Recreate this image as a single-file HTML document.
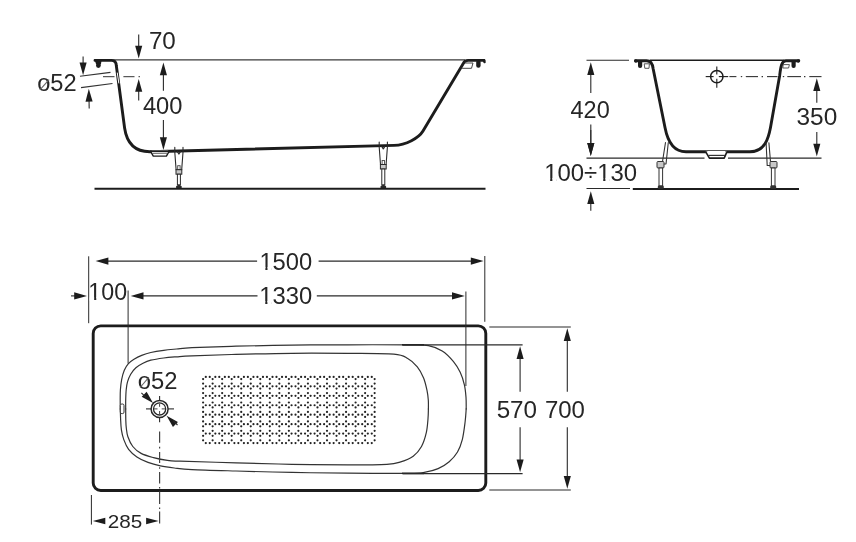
<!DOCTYPE html>
<html><head><meta charset="utf-8"><style>
html,body{margin:0;padding:0;background:#fff;}
svg{display:block;will-change:transform;}
text{font-family:"Liberation Sans",sans-serif;}
</style></head><body>
<svg width="856" height="542" viewBox="0 0 856 542">
<line x1="108.00" y1="59.80" x2="465.00" y2="59.80" stroke="#3a3a3a" stroke-width="1.3" />
<path d="M95,60.4 L111.5,60.4 Q116,60.4 116.3,65.5 L124.6,128 C126.8,143 134,151.8 150,151.7 L394,145.4 C406,145.1 418.9,137.9 423,131 L463,64 Q464.5,60.4 468,60.4 L484,60.4" stroke="#1c1c1c" stroke-width="2.9" fill="none" stroke-linejoin="round" stroke-linecap="round" />
<polygon points="94.3,59 101.8,59 100.9,64.5 96.2,64.5" fill="#1c1c1c"/>
<circle cx="98.4" cy="65.5" r="2.4" fill="#1c1c1c"/>
<rect x="476.2" y="60" width="4.4" height="7.8" rx="2.1" fill="#1c1c1c"/>
<path d="M484,60.4 L484.5,62" stroke="#1c1c1c" stroke-width="2.5" fill="none" stroke-linejoin="round" stroke-linecap="round" />
<path d="M465.5,63 L473,63 L471.5,68.3 L462.5,68.3" stroke="#444" stroke-width="1.0" fill="none" stroke-linejoin="round" stroke-linecap="round" />
<path d="M117.3,73 L118.8,83" stroke="#fff" stroke-width="1.0" fill="none" stroke-linejoin="round" stroke-linecap="round" />
<path d="M150.6,151.3 L153.3,156.1 L166.4,156.1 L169.1,151.3 Z" fill="#fff" stroke="#1c1c1c" stroke-width="1.4" stroke-linejoin="round"/>
<line x1="151.50" y1="150.60" x2="168.30" y2="150.40" stroke="#555" stroke-width="1.0" />
<line x1="152.30" y1="153.30" x2="167.50" y2="153.20" stroke="#555" stroke-width="1.0" />
<path d="M174.8,147.2 L174.8,152.2 L176.10000000000002,169.7 L181.7,169.7 L183.0,152.2 L183.0,147.2" stroke="#2a2a2a" stroke-width="1.1" fill="none" stroke-linejoin="round" stroke-linecap="round" />
<path d="M177.4,151.7 L178.9,154.0 L180.4,151.7" stroke="#2a2a2a" stroke-width="1.3" fill="none" stroke-linejoin="round" stroke-linecap="round" />
<rect x="177.70000000000002" y="165.7" width="2.3999999999999995" height="4" fill="none" stroke="#444" stroke-width="0.9"/>
<rect x="176.0" y="169.7" width="5.799999999999999" height="4.5" fill="#c8c8c8" stroke="#2a2a2a" stroke-width="1"/>
<rect x="177.4" y="174.2" width="2.999999999999999" height="10.600000000000023" fill="#fff" stroke="#2a2a2a" stroke-width="1"/>
<path d="M176.10000000000002,188.8 L176.10000000000002,186.3 Q178.9,183.3 181.7,186.3 L181.7,188.8 Z" fill="#2a2a2a"/>
<path d="M379.2,142 L379.2,147 L380.5,164.5 L386.09999999999997,164.5 L387.4,147 L387.4,142" stroke="#2a2a2a" stroke-width="1.1" fill="none" stroke-linejoin="round" stroke-linecap="round" />
<path d="M381.8,146.5 L383.3,148.8 L384.79999999999995,146.5" stroke="#2a2a2a" stroke-width="1.3" fill="none" stroke-linejoin="round" stroke-linecap="round" />
<rect x="382.09999999999997" y="160.5" width="2.3999999999999995" height="4" fill="none" stroke="#444" stroke-width="0.9"/>
<rect x="380.4" y="164.5" width="5.799999999999999" height="4.5" fill="#c8c8c8" stroke="#2a2a2a" stroke-width="1"/>
<rect x="381.8" y="169" width="2.999999999999999" height="15.800000000000011" fill="#fff" stroke="#2a2a2a" stroke-width="1"/>
<path d="M380.5,188.8 L380.5,186.3 Q383.3,183.3 386.09999999999997,186.3 L386.09999999999997,188.8 Z" fill="#2a2a2a"/>
<line x1="94.50" y1="188.80" x2="485.50" y2="188.80" stroke="#1c1c1c" stroke-width="2.1" />
<line x1="103.00" y1="76.70" x2="114.50" y2="76.70" stroke="#333" stroke-width="1.0" />
<line x1="123.40" y1="76.70" x2="134.50" y2="76.70" stroke="#333" stroke-width="1.0" />
<line x1="138.50" y1="76.70" x2="140.00" y2="76.70" stroke="#333" stroke-width="1.0" />
<line x1="80.00" y1="76.30" x2="110.50" y2="72.40" stroke="#333" stroke-width="1.1" />
<line x1="81.00" y1="87.60" x2="112.50" y2="83.50" stroke="#333" stroke-width="1.1" />
<line x1="83.10" y1="56.40" x2="83.10" y2="64.40" stroke="#2a2a2a" stroke-width="1.1" />
<polygon points="83.10,75.20 79.55,62.40 86.65,62.40" fill="#1c1c1c"/>
<line x1="89.20" y1="108.40" x2="89.02" y2="99.60" stroke="#2a2a2a" stroke-width="1.1" />
<polygon points="88.80,88.80 92.61,101.52 85.51,101.67" fill="#1c1c1c"/>
<line x1="138.70" y1="34.60" x2="138.70" y2="47.80" stroke="#2a2a2a" stroke-width="1.1" />
<polygon points="138.70,58.60 135.15,45.80 142.25,45.80" fill="#1c1c1c"/>
<line x1="138.70" y1="100.50" x2="138.70" y2="89.80" stroke="#2a2a2a" stroke-width="1.1" />
<polygon points="138.70,79.00 142.25,91.80 135.15,91.80" fill="#1c1c1c"/>
<line x1="163.40" y1="90.70" x2="163.40" y2="73.30" stroke="#2a2a2a" stroke-width="1.1" />
<polygon points="163.40,62.50 166.95,75.30 159.85,75.30" fill="#1c1c1c"/>
<line x1="163.40" y1="120.10" x2="163.40" y2="139.20" stroke="#2a2a2a" stroke-width="1.1" />
<polygon points="163.40,150.00 159.85,137.20 166.95,137.20" fill="#1c1c1c"/>
<text transform="translate(148.89,49.16) scale(1.0295,1)" font-size="23.52" fill="#262626">70</text>
<text transform="translate(37.15,91.07) scale(1.0186,1)" font-size="23.24" fill="#262626">o52</text>
<line x1="39.90" y1="89.80" x2="49.10" y2="79.70" stroke="#666" stroke-width="1.1" />
<text transform="translate(142.93,113.96) scale(1.0027,1)" font-size="23.66" fill="#262626">400</text>
<line x1="586.50" y1="60.20" x2="629.00" y2="60.20" stroke="#2a2a2a" stroke-width="1.1" />
<line x1="650.00" y1="60.30" x2="784.00" y2="60.30" stroke="#1c1c1c" stroke-width="1.5" />
<path d="M635.5,60.8 L646.5,60.8 C650.5,60.8 652.6,63.5 653.2,69 L665,127.5 C667,138 672,151.8 686,151.8 L706,151.8 M726.5,151.8 L750,151.8 C765,151.8 768.5,138 770.5,127.5 L779.6,76 C780.6,68 781.3,60.8 786,60.8 L798.8,60.8" stroke="#1c1c1c" stroke-width="2.9" fill="none" stroke-linejoin="round" stroke-linecap="round" />
<path d="M705.6,151.6 L709.4,158.1 L724.2,158.1 L727,151.6" fill="#fff" stroke="#1c1c1c" stroke-width="1.6" stroke-linejoin="round"/>
<line x1="706.50" y1="150.50" x2="726.20" y2="150.50" stroke="#555" stroke-width="1.0" />
<line x1="708.50" y1="155.40" x2="725.00" y2="155.40" stroke="#333" stroke-width="1.2" />
<rect x="638" y="60" width="4.2" height="8" rx="2" fill="#1c1c1c"/>
<rect x="791.5" y="60" width="4.2" height="8" rx="2" fill="#1c1c1c"/>
<circle cx="798.3" cy="61" r="1.7" fill="#1c1c1c"/>
<circle cx="635.8" cy="61" r="1.7" fill="#1c1c1c"/>
<path d="M644.6,63.8 L649.4,63.8 L649,68.3 L645.2,68.3 Z" stroke="#444" stroke-width="0.9" fill="none" stroke-linejoin="round" stroke-linecap="round" />
<path d="M783.6,64.6 L789.4,64.6 L788.6,68 L783.2,68 Z" stroke="#444" stroke-width="0.9" fill="none" stroke-linejoin="round" stroke-linecap="round" />
<circle cx="716.8" cy="76.6" r="6.2" fill="none" stroke="#1c1c1c" stroke-width="1.5"/>
<line x1="705.70" y1="76.60" x2="713.60" y2="76.60" stroke="#1c1c1c" stroke-width="1.1" />
<line x1="718.80" y1="76.60" x2="728.20" y2="76.60" stroke="#1c1c1c" stroke-width="1.1" />
<line x1="716.80" y1="66.50" x2="716.80" y2="74.40" stroke="#1c1c1c" stroke-width="1.1" />
<line x1="716.80" y1="78.80" x2="716.80" y2="87.70" stroke="#1c1c1c" stroke-width="1.1" />
<line x1="729.40" y1="76.60" x2="736.40" y2="76.60" stroke="#333" stroke-width="1.1" />
<line x1="740.80" y1="76.60" x2="742.20" y2="76.60" stroke="#333" stroke-width="1.1" />
<line x1="745.80" y1="76.60" x2="758.00" y2="76.60" stroke="#333" stroke-width="1.1" />
<line x1="761.60" y1="76.60" x2="763.00" y2="76.60" stroke="#333" stroke-width="1.1" />
<line x1="767.00" y1="76.60" x2="777.50" y2="76.60" stroke="#333" stroke-width="1.1" />
<line x1="782.80" y1="76.60" x2="784.20" y2="76.60" stroke="#333" stroke-width="1.1" />
<line x1="787.30" y1="76.60" x2="801.00" y2="76.60" stroke="#333" stroke-width="1.1" />
<line x1="804.00" y1="76.60" x2="805.40" y2="76.60" stroke="#333" stroke-width="1.1" />
<line x1="809.30" y1="76.60" x2="821.50" y2="76.60" stroke="#333" stroke-width="1.1" />
<line x1="586.50" y1="158.10" x2="704.50" y2="158.10" stroke="#2a2a2a" stroke-width="1.1" />
<line x1="728.00" y1="158.10" x2="821.50" y2="158.10" stroke="#2a2a2a" stroke-width="1.1" />
<line x1="586.50" y1="188.50" x2="630.00" y2="188.50" stroke="#2a2a2a" stroke-width="1.1" />
<line x1="632.80" y1="189.00" x2="799.00" y2="189.00" stroke="#1c1c1c" stroke-width="2.1" />
<line x1="590.80" y1="93.00" x2="590.80" y2="73.10" stroke="#2a2a2a" stroke-width="1.1" />
<polygon points="590.80,62.30 594.35,75.10 587.25,75.10" fill="#1c1c1c"/>
<line x1="590.80" y1="124.40" x2="590.80" y2="145.10" stroke="#2a2a2a" stroke-width="1.1" />
<polygon points="590.80,155.90 587.25,143.10 594.35,143.10" fill="#1c1c1c"/>
<line x1="590.80" y1="130.00" x2="590.80" y2="145.10" stroke="#2a2a2a" stroke-width="1.1" />
<polygon points="590.80,155.90 587.25,143.10 594.35,143.10" fill="#1c1c1c"/>
<line x1="590.80" y1="210.80" x2="590.80" y2="202.00" stroke="#2a2a2a" stroke-width="1.1" />
<polygon points="590.80,191.20 594.35,204.00 587.25,204.00" fill="#1c1c1c"/>
<line x1="816.80" y1="102.80" x2="816.80" y2="89.10" stroke="#2a2a2a" stroke-width="1.1" />
<polygon points="816.80,78.30 820.35,91.10 813.25,91.10" fill="#1c1c1c"/>
<line x1="816.80" y1="132.10" x2="816.80" y2="145.70" stroke="#2a2a2a" stroke-width="1.1" />
<polygon points="816.80,156.50 813.25,143.70 820.35,143.70" fill="#1c1c1c"/>
<path d="M665.5,142.5 L662.5,161.5 M668.3,142.5 L666,164 L664.3,164" stroke="#333" stroke-width="1.1" fill="none" stroke-linejoin="round" stroke-linecap="round" />
<rect x="657" y="161.5" width="7" height="6.5" rx="1" fill="#c8c8c8" stroke="#333" stroke-width="1"/>
<rect x="659" y="168" width="3.6" height="18" fill="#fff" stroke="#333" stroke-width="1"/>
<rect x="657.8" y="185.5" width="6" height="3.2" rx="1.2" fill="#333"/>
<path d="M768.9,142.8 L770.5,161.6 M766.1,142.8 L767.2,165.5 L770.3,165.5" stroke="#333" stroke-width="1.1" fill="none" stroke-linejoin="round" stroke-linecap="round" />
<rect x="770" y="161.5" width="7" height="6.5" rx="1" fill="#c8c8c8" stroke="#333" stroke-width="1"/>
<rect x="771.4" y="168" width="3.6" height="18" fill="#fff" stroke="#333" stroke-width="1"/>
<rect x="770.2" y="185.5" width="6" height="3.2" rx="1.2" fill="#333"/>
<text transform="translate(570.53,117.57) scale(1.0103,1)" font-size="23.24" fill="#262626">420</text>
<text transform="translate(796.52,125.46) scale(1.0313,1)" font-size="23.66" fill="#262626">350</text>
<text transform="translate(544.19,181.17) scale(1.0233,1)" font-size="23.38" fill="#262626">100÷130</text>
<g transform="translate(544.19,181.17) scale(1.0233,1)" fill="#fff"><rect x="1.40" y="-3.04" width="4.44" height="3.74"/><rect x="7.98" y="-3.04" width="4.21" height="3.74"/><rect x="53.24" y="-3.04" width="4.44" height="3.74"/><rect x="59.83" y="-3.04" width="4.21" height="3.74"/></g>
<rect x="93.2" y="325.9" width="392.6" height="164.6" rx="7.5" fill="none" stroke="#1c1c1c" stroke-width="2.9"/>
<line x1="88.70" y1="256.30" x2="88.70" y2="323.20" stroke="#2a2a2a" stroke-width="1.0" />
<line x1="484.80" y1="256.00" x2="484.80" y2="321.80" stroke="#2a2a2a" stroke-width="1.0" />
<line x1="128.10" y1="290.50" x2="128.10" y2="363.50" stroke="#2a2a2a" stroke-width="1.0" />
<line x1="465.90" y1="291.50" x2="465.90" y2="386.00" stroke="#2a2a2a" stroke-width="1.0" />
<line x1="257.10" y1="261.10" x2="106.40" y2="261.10" stroke="#2a2a2a" stroke-width="1.1" />
<polygon points="95.60,261.10 108.40,257.55 108.40,264.65" fill="#1c1c1c"/>
<line x1="318.60" y1="261.10" x2="472.80" y2="261.10" stroke="#2a2a2a" stroke-width="1.1" />
<polygon points="483.60,261.10 470.80,264.65 470.80,257.55" fill="#1c1c1c"/>
<line x1="257.50" y1="295.90" x2="141.50" y2="295.90" stroke="#2a2a2a" stroke-width="1.1" />
<polygon points="130.70,295.90 143.50,292.35 143.50,299.45" fill="#1c1c1c"/>
<line x1="316.80" y1="295.90" x2="454.00" y2="295.90" stroke="#2a2a2a" stroke-width="1.1" />
<polygon points="464.80,295.90 452.00,299.45 452.00,292.35" fill="#1c1c1c"/>
<line x1="71.00" y1="295.90" x2="76.20" y2="295.90" stroke="#2a2a2a" stroke-width="1.1" />
<polygon points="87.00,295.90 74.20,299.45 74.20,292.35" fill="#1c1c1c"/>
<text transform="translate(259.40,270.07) scale(1.0225,1)" font-size="23.24" fill="#262626">1500</text>
<g transform="translate(259.40,270.07) scale(1.0225,1)" fill="#fff"><rect x="1.39" y="-3.02" width="4.42" height="3.72"/><rect x="7.94" y="-3.02" width="4.18" height="3.72"/></g>
<text transform="translate(259.30,304.06) scale(1.0062,1)" font-size="23.66" fill="#262626">1330</text>
<g transform="translate(259.30,304.06) scale(1.0062,1)" fill="#fff"><rect x="1.42" y="-3.08" width="4.50" height="3.79"/><rect x="8.08" y="-3.08" width="4.26" height="3.79"/></g>
<text transform="translate(88.34,300.37) scale(1.0055,1)" font-size="23.10" fill="#262626">100</text>
<g transform="translate(88.34,300.37) scale(1.0055,1)" fill="#fff"><rect x="1.39" y="-3.00" width="4.39" height="3.70"/><rect x="7.89" y="-3.00" width="4.16" height="3.70"/></g>
<path d="M466.20,408.90 C466.17,406.95 466.30,401.22 466.00,397.20 C465.70,393.18 465.37,388.95 464.40,384.80 C463.43,380.65 462.05,376.22 460.20,372.30 C458.35,368.38 456.30,364.87 453.30,361.30 C450.30,357.73 446.35,353.52 442.20,350.90 C438.05,348.28 433.77,346.62 428.40,345.60 C423.03,344.58 423.40,344.93 410.00,344.80 C396.60,344.67 367.67,344.75 348.00,344.80 C328.33,344.85 310.67,344.87 292.00,345.10 C273.33,345.33 252.67,345.77 236.00,346.20 C219.33,346.63 201.90,347.23 192.00,347.70 C182.10,348.17 181.32,348.57 176.60,349.00 C171.88,349.43 168.00,349.72 163.70,350.30 C159.40,350.88 154.47,351.65 150.80,352.50 C147.13,353.35 144.50,354.27 141.70,355.40 C138.90,356.53 136.25,357.90 134.00,359.30 C131.75,360.70 129.82,361.97 128.20,363.80 C126.58,365.63 125.38,367.70 124.30,370.30 C123.22,372.90 122.35,376.17 121.70,379.40 C121.05,382.63 120.65,386.27 120.40,389.70 C120.15,393.13 120.22,396.80 120.20,400.00 C120.18,403.20 120.28,407.42 120.30,408.90" stroke="#333" stroke-width="1.2" fill="none" stroke-linejoin="round" stroke-linecap="round" />
<path d="M120.30,408.90 C120.35,410.55 120.42,415.30 120.60,418.80 C120.78,422.30 120.87,426.43 121.40,429.90 C121.93,433.37 122.60,436.37 123.80,439.60 C125.00,442.83 126.42,446.42 128.60,449.30 C130.78,452.18 133.67,454.72 136.90,456.90 C140.13,459.08 144.08,460.90 148.00,462.40 C151.92,463.90 156.02,464.97 160.40,465.90 C164.78,466.83 169.03,467.38 174.30,468.00 C179.57,468.62 181.72,469.10 192.00,469.60 C202.28,470.10 219.33,470.53 236.00,471.00 C252.67,471.47 273.33,472.03 292.00,472.40 C310.67,472.77 328.33,473.03 348.00,473.20 C367.67,473.37 397.28,473.53 410.00,473.40 C422.72,473.27 419.62,473.20 424.30,472.40 C428.98,471.60 433.95,470.38 438.10,468.60 C442.25,466.82 445.97,464.47 449.20,461.70 C452.43,458.93 455.32,455.68 457.50,452.00 C459.68,448.32 461.03,444.60 462.30,439.60 C463.57,434.60 464.45,427.12 465.10,422.00 C465.75,416.88 466.02,411.08 466.20,408.90" stroke="#333" stroke-width="1.2" fill="none" stroke-linejoin="round" stroke-linecap="round" />
<path d="M428.40,408.90 C428.38,407.42 428.53,403.10 428.30,400.00 C428.07,396.90 427.78,393.98 427.00,390.30 C426.22,386.62 425.22,381.82 423.60,377.90 C421.98,373.98 419.95,370.03 417.30,366.80 C414.65,363.57 411.62,360.60 407.70,358.50 C403.78,356.40 403.75,355.05 393.80,354.20 C383.85,353.35 364.97,353.55 348.00,353.40 C331.03,353.25 310.67,353.13 292.00,353.30 C273.33,353.47 252.67,353.98 236.00,354.40 C219.33,354.82 201.90,355.40 192.00,355.80 C182.10,356.20 181.32,356.43 176.60,356.80 C171.88,357.17 168.00,357.43 163.70,358.00 C159.40,358.57 154.25,359.33 150.80,360.20 C147.35,361.07 145.48,361.95 143.00,363.20 C140.52,364.45 137.95,365.87 135.90,367.70 C133.85,369.53 132.10,371.83 130.70,374.20 C129.30,376.57 128.25,379.32 127.50,381.90 C126.75,384.48 126.50,386.68 126.20,389.70 C125.90,392.72 125.78,396.80 125.70,400.00 C125.62,403.20 125.70,407.42 125.70,408.90" stroke="#333" stroke-width="1.2" fill="none" stroke-linejoin="round" stroke-linecap="round" />
<path d="M125.70,408.90 C125.72,410.75 125.70,416.82 125.80,420.00 C125.90,423.18 125.95,425.20 126.30,428.00 C126.65,430.80 126.82,433.72 127.90,436.80 C128.98,439.88 130.60,443.73 132.80,446.50 C135.00,449.27 137.65,451.55 141.10,453.40 C144.55,455.25 149.12,456.43 153.50,457.60 C157.88,458.77 162.98,459.80 167.40,460.40 C171.82,461.00 168.57,460.80 180.00,461.20 C191.43,461.60 217.33,462.28 236.00,462.80 C254.67,463.32 273.33,463.97 292.00,464.30 C310.67,464.63 332.18,464.80 348.00,464.80 C363.82,464.80 378.12,464.78 386.90,464.30 C395.68,463.82 396.32,463.25 400.70,461.90 C405.08,460.55 409.73,458.77 413.20,456.20 C416.67,453.63 419.32,450.42 421.50,446.50 C423.68,442.58 425.22,437.32 426.30,432.70 C427.38,428.08 427.65,422.77 428.00,418.80 C428.35,414.83 428.33,410.55 428.40,408.90" stroke="#333" stroke-width="1.2" fill="none" stroke-linejoin="round" stroke-linecap="round" />
<line x1="402.00" y1="344.80" x2="424.00" y2="344.80" stroke="#222" stroke-width="1.6" />
<line x1="402.00" y1="473.40" x2="424.00" y2="473.40" stroke="#222" stroke-width="1.6" />
<rect x="120.3" y="404" width="3.7" height="9.6" rx="1.5" fill="#fff" stroke="#333" stroke-width="1"/>
<line x1="403.00" y1="344.80" x2="522.60" y2="344.80" stroke="#2a2a2a" stroke-width="1.2" />
<line x1="403.00" y1="473.60" x2="522.60" y2="473.60" stroke="#2a2a2a" stroke-width="1.2" />
<line x1="489.30" y1="327.00" x2="570.80" y2="327.00" stroke="#2a2a2a" stroke-width="1.2" />
<line x1="489.30" y1="490.00" x2="570.80" y2="490.00" stroke="#2a2a2a" stroke-width="1.2" />
<line x1="520.10" y1="391.70" x2="520.10" y2="357.10" stroke="#2a2a2a" stroke-width="1.1" />
<polygon points="520.10,346.30 523.65,359.10 516.55,359.10" fill="#1c1c1c"/>
<line x1="520.10" y1="427.30" x2="520.10" y2="461.40" stroke="#2a2a2a" stroke-width="1.1" />
<polygon points="520.10,472.20 516.55,459.40 523.65,459.40" fill="#1c1c1c"/>
<line x1="567.30" y1="391.70" x2="567.30" y2="339.00" stroke="#2a2a2a" stroke-width="1.1" />
<polygon points="567.30,328.20 570.85,341.00 563.75,341.00" fill="#1c1c1c"/>
<line x1="567.30" y1="427.30" x2="567.30" y2="478.00" stroke="#2a2a2a" stroke-width="1.1" />
<polygon points="567.30,488.80 563.75,476.00 570.85,476.00" fill="#1c1c1c"/>
<text transform="translate(496.63,418.17) scale(1.0357,1)" font-size="23.38" fill="#262626">570</text>
<text transform="translate(544.90,418.17) scale(1.0260,1)" font-size="23.38" fill="#262626">700</text>
<circle cx="159.6" cy="408.9" r="8.5" fill="none" stroke="#262626" stroke-width="1.5"/>
<circle cx="159.6" cy="408.9" r="6.1" fill="none" stroke="#262626" stroke-width="1.3"/>
<line x1="146.00" y1="408.90" x2="151.00" y2="408.90" stroke="#2a2a2a" stroke-width="1.1" />
<line x1="168.20" y1="408.90" x2="174.00" y2="408.90" stroke="#2a2a2a" stroke-width="1.1" />
<line x1="159.60" y1="396.00" x2="159.60" y2="400.40" stroke="#2a2a2a" stroke-width="1.1" />
<line x1="159.60" y1="417.40" x2="159.60" y2="422.20" stroke="#2a2a2a" stroke-width="1.1" />
<line x1="154.00" y1="408.90" x2="157.50" y2="408.90" stroke="#444" stroke-width="1.0" />
<line x1="161.70" y1="408.90" x2="165.20" y2="408.90" stroke="#444" stroke-width="1.0" />
<line x1="159.60" y1="403.60" x2="159.60" y2="406.80" stroke="#444" stroke-width="1.0" />
<line x1="159.60" y1="411.00" x2="159.60" y2="414.20" stroke="#444" stroke-width="1.0" />
<polygon points="153.00,403.00 141.69,396.64 146.64,391.69" fill="#1c1c1c"/>
<line x1="141.40" y1="392.80" x2="146.00" y2="397.40" stroke="#2a2a2a" stroke-width="1.1" />
<polygon points="166.60,415.70 177.91,422.06 172.96,427.01" fill="#1c1c1c"/>
<line x1="177.50" y1="425.00" x2="173.00" y2="420.50" stroke="#2a2a2a" stroke-width="1.1" />
<text transform="translate(137.75,388.67) scale(1.0240,1)" font-size="23.24" fill="#262626">o52</text>
<line x1="140.10" y1="387.50" x2="148.80" y2="377.40" stroke="#666" stroke-width="1.1" />
<line x1="159.60" y1="431.60" x2="159.60" y2="442.80" stroke="#444" stroke-width="1.2" />
<line x1="159.60" y1="446.80" x2="159.60" y2="448.40" stroke="#444" stroke-width="1.2" />
<line x1="159.60" y1="452.00" x2="159.60" y2="463.00" stroke="#444" stroke-width="1.2" />
<line x1="159.60" y1="467.20" x2="159.60" y2="468.80" stroke="#444" stroke-width="1.2" />
<line x1="159.60" y1="471.90" x2="159.60" y2="483.50" stroke="#444" stroke-width="1.2" />
<line x1="159.60" y1="487.00" x2="159.60" y2="488.60" stroke="#444" stroke-width="1.2" />
<line x1="159.60" y1="491.40" x2="159.60" y2="504.00" stroke="#444" stroke-width="1.2" />
<line x1="159.60" y1="507.50" x2="159.60" y2="509.10" stroke="#444" stroke-width="1.2" />
<line x1="159.60" y1="511.60" x2="159.60" y2="523.50" stroke="#444" stroke-width="1.2" />
<line x1="91.40" y1="495.00" x2="91.40" y2="524.60" stroke="#2a2a2a" stroke-width="1.0" />
<polygon points="92.80,521.00 105.30,517.70 105.30,524.30" fill="#1c1c1c"/>
<polygon points="158.60,521.00 146.10,524.30 146.10,517.70" fill="#1c1c1c"/>
<text transform="translate(107.77,528.21) scale(1.0805,1)" font-size="19.15" fill="#262626">285</text>
<g fill="#222"><circle cx="205.80" cy="376.90" r="1.1"/><circle cx="209.75" cy="376.90" r="1.1"/><circle cx="215.33" cy="376.90" r="1.1"/><circle cx="219.28" cy="376.90" r="1.1"/><circle cx="224.86" cy="376.90" r="1.1"/><circle cx="228.81" cy="376.90" r="1.1"/><circle cx="234.39" cy="376.90" r="1.1"/><circle cx="238.34" cy="376.90" r="1.1"/><circle cx="243.92" cy="376.90" r="1.1"/><circle cx="247.87" cy="376.90" r="1.1"/><circle cx="253.45" cy="376.90" r="1.1"/><circle cx="257.40" cy="376.90" r="1.1"/><circle cx="262.98" cy="376.90" r="1.1"/><circle cx="266.93" cy="376.90" r="1.1"/><circle cx="272.51" cy="376.90" r="1.1"/><circle cx="276.46" cy="376.90" r="1.1"/><circle cx="282.04" cy="376.90" r="1.1"/><circle cx="285.99" cy="376.90" r="1.1"/><circle cx="291.57" cy="376.90" r="1.1"/><circle cx="295.52" cy="376.90" r="1.1"/><circle cx="301.10" cy="376.90" r="1.1"/><circle cx="305.05" cy="376.90" r="1.1"/><circle cx="310.63" cy="376.90" r="1.1"/><circle cx="314.58" cy="376.90" r="1.1"/><circle cx="320.16" cy="376.90" r="1.1"/><circle cx="324.11" cy="376.90" r="1.1"/><circle cx="329.69" cy="376.90" r="1.1"/><circle cx="333.64" cy="376.90" r="1.1"/><circle cx="339.22" cy="376.90" r="1.1"/><circle cx="343.17" cy="376.90" r="1.1"/><circle cx="348.75" cy="376.90" r="1.1"/><circle cx="352.70" cy="376.90" r="1.1"/><circle cx="358.28" cy="376.90" r="1.1"/><circle cx="362.23" cy="376.90" r="1.1"/><circle cx="367.81" cy="376.90" r="1.1"/><circle cx="371.76" cy="376.90" r="1.1"/><circle cx="205.80" cy="386.35" r="1.1"/><circle cx="209.75" cy="386.35" r="1.1"/><circle cx="215.33" cy="386.35" r="1.1"/><circle cx="219.28" cy="386.35" r="1.1"/><circle cx="224.86" cy="386.35" r="1.1"/><circle cx="228.81" cy="386.35" r="1.1"/><circle cx="234.39" cy="386.35" r="1.1"/><circle cx="238.34" cy="386.35" r="1.1"/><circle cx="243.92" cy="386.35" r="1.1"/><circle cx="247.87" cy="386.35" r="1.1"/><circle cx="253.45" cy="386.35" r="1.1"/><circle cx="257.40" cy="386.35" r="1.1"/><circle cx="262.98" cy="386.35" r="1.1"/><circle cx="266.93" cy="386.35" r="1.1"/><circle cx="272.51" cy="386.35" r="1.1"/><circle cx="276.46" cy="386.35" r="1.1"/><circle cx="282.04" cy="386.35" r="1.1"/><circle cx="285.99" cy="386.35" r="1.1"/><circle cx="291.57" cy="386.35" r="1.1"/><circle cx="295.52" cy="386.35" r="1.1"/><circle cx="301.10" cy="386.35" r="1.1"/><circle cx="305.05" cy="386.35" r="1.1"/><circle cx="310.63" cy="386.35" r="1.1"/><circle cx="314.58" cy="386.35" r="1.1"/><circle cx="320.16" cy="386.35" r="1.1"/><circle cx="324.11" cy="386.35" r="1.1"/><circle cx="329.69" cy="386.35" r="1.1"/><circle cx="333.64" cy="386.35" r="1.1"/><circle cx="339.22" cy="386.35" r="1.1"/><circle cx="343.17" cy="386.35" r="1.1"/><circle cx="348.75" cy="386.35" r="1.1"/><circle cx="352.70" cy="386.35" r="1.1"/><circle cx="358.28" cy="386.35" r="1.1"/><circle cx="362.23" cy="386.35" r="1.1"/><circle cx="367.81" cy="386.35" r="1.1"/><circle cx="371.76" cy="386.35" r="1.1"/><circle cx="205.80" cy="395.80" r="1.1"/><circle cx="209.75" cy="395.80" r="1.1"/><circle cx="215.33" cy="395.80" r="1.1"/><circle cx="219.28" cy="395.80" r="1.1"/><circle cx="224.86" cy="395.80" r="1.1"/><circle cx="228.81" cy="395.80" r="1.1"/><circle cx="234.39" cy="395.80" r="1.1"/><circle cx="238.34" cy="395.80" r="1.1"/><circle cx="243.92" cy="395.80" r="1.1"/><circle cx="247.87" cy="395.80" r="1.1"/><circle cx="253.45" cy="395.80" r="1.1"/><circle cx="257.40" cy="395.80" r="1.1"/><circle cx="262.98" cy="395.80" r="1.1"/><circle cx="266.93" cy="395.80" r="1.1"/><circle cx="272.51" cy="395.80" r="1.1"/><circle cx="276.46" cy="395.80" r="1.1"/><circle cx="282.04" cy="395.80" r="1.1"/><circle cx="285.99" cy="395.80" r="1.1"/><circle cx="291.57" cy="395.80" r="1.1"/><circle cx="295.52" cy="395.80" r="1.1"/><circle cx="301.10" cy="395.80" r="1.1"/><circle cx="305.05" cy="395.80" r="1.1"/><circle cx="310.63" cy="395.80" r="1.1"/><circle cx="314.58" cy="395.80" r="1.1"/><circle cx="320.16" cy="395.80" r="1.1"/><circle cx="324.11" cy="395.80" r="1.1"/><circle cx="329.69" cy="395.80" r="1.1"/><circle cx="333.64" cy="395.80" r="1.1"/><circle cx="339.22" cy="395.80" r="1.1"/><circle cx="343.17" cy="395.80" r="1.1"/><circle cx="348.75" cy="395.80" r="1.1"/><circle cx="352.70" cy="395.80" r="1.1"/><circle cx="358.28" cy="395.80" r="1.1"/><circle cx="362.23" cy="395.80" r="1.1"/><circle cx="367.81" cy="395.80" r="1.1"/><circle cx="371.76" cy="395.80" r="1.1"/><circle cx="205.80" cy="405.25" r="1.1"/><circle cx="209.75" cy="405.25" r="1.1"/><circle cx="215.33" cy="405.25" r="1.1"/><circle cx="219.28" cy="405.25" r="1.1"/><circle cx="224.86" cy="405.25" r="1.1"/><circle cx="228.81" cy="405.25" r="1.1"/><circle cx="234.39" cy="405.25" r="1.1"/><circle cx="238.34" cy="405.25" r="1.1"/><circle cx="243.92" cy="405.25" r="1.1"/><circle cx="247.87" cy="405.25" r="1.1"/><circle cx="253.45" cy="405.25" r="1.1"/><circle cx="257.40" cy="405.25" r="1.1"/><circle cx="262.98" cy="405.25" r="1.1"/><circle cx="266.93" cy="405.25" r="1.1"/><circle cx="272.51" cy="405.25" r="1.1"/><circle cx="276.46" cy="405.25" r="1.1"/><circle cx="282.04" cy="405.25" r="1.1"/><circle cx="285.99" cy="405.25" r="1.1"/><circle cx="291.57" cy="405.25" r="1.1"/><circle cx="295.52" cy="405.25" r="1.1"/><circle cx="301.10" cy="405.25" r="1.1"/><circle cx="305.05" cy="405.25" r="1.1"/><circle cx="310.63" cy="405.25" r="1.1"/><circle cx="314.58" cy="405.25" r="1.1"/><circle cx="320.16" cy="405.25" r="1.1"/><circle cx="324.11" cy="405.25" r="1.1"/><circle cx="329.69" cy="405.25" r="1.1"/><circle cx="333.64" cy="405.25" r="1.1"/><circle cx="339.22" cy="405.25" r="1.1"/><circle cx="343.17" cy="405.25" r="1.1"/><circle cx="348.75" cy="405.25" r="1.1"/><circle cx="352.70" cy="405.25" r="1.1"/><circle cx="358.28" cy="405.25" r="1.1"/><circle cx="362.23" cy="405.25" r="1.1"/><circle cx="367.81" cy="405.25" r="1.1"/><circle cx="371.76" cy="405.25" r="1.1"/><circle cx="205.80" cy="414.70" r="1.1"/><circle cx="209.75" cy="414.70" r="1.1"/><circle cx="215.33" cy="414.70" r="1.1"/><circle cx="219.28" cy="414.70" r="1.1"/><circle cx="224.86" cy="414.70" r="1.1"/><circle cx="228.81" cy="414.70" r="1.1"/><circle cx="234.39" cy="414.70" r="1.1"/><circle cx="238.34" cy="414.70" r="1.1"/><circle cx="243.92" cy="414.70" r="1.1"/><circle cx="247.87" cy="414.70" r="1.1"/><circle cx="253.45" cy="414.70" r="1.1"/><circle cx="257.40" cy="414.70" r="1.1"/><circle cx="262.98" cy="414.70" r="1.1"/><circle cx="266.93" cy="414.70" r="1.1"/><circle cx="272.51" cy="414.70" r="1.1"/><circle cx="276.46" cy="414.70" r="1.1"/><circle cx="282.04" cy="414.70" r="1.1"/><circle cx="285.99" cy="414.70" r="1.1"/><circle cx="291.57" cy="414.70" r="1.1"/><circle cx="295.52" cy="414.70" r="1.1"/><circle cx="301.10" cy="414.70" r="1.1"/><circle cx="305.05" cy="414.70" r="1.1"/><circle cx="310.63" cy="414.70" r="1.1"/><circle cx="314.58" cy="414.70" r="1.1"/><circle cx="320.16" cy="414.70" r="1.1"/><circle cx="324.11" cy="414.70" r="1.1"/><circle cx="329.69" cy="414.70" r="1.1"/><circle cx="333.64" cy="414.70" r="1.1"/><circle cx="339.22" cy="414.70" r="1.1"/><circle cx="343.17" cy="414.70" r="1.1"/><circle cx="348.75" cy="414.70" r="1.1"/><circle cx="352.70" cy="414.70" r="1.1"/><circle cx="358.28" cy="414.70" r="1.1"/><circle cx="362.23" cy="414.70" r="1.1"/><circle cx="367.81" cy="414.70" r="1.1"/><circle cx="371.76" cy="414.70" r="1.1"/><circle cx="205.80" cy="424.15" r="1.1"/><circle cx="209.75" cy="424.15" r="1.1"/><circle cx="215.33" cy="424.15" r="1.1"/><circle cx="219.28" cy="424.15" r="1.1"/><circle cx="224.86" cy="424.15" r="1.1"/><circle cx="228.81" cy="424.15" r="1.1"/><circle cx="234.39" cy="424.15" r="1.1"/><circle cx="238.34" cy="424.15" r="1.1"/><circle cx="243.92" cy="424.15" r="1.1"/><circle cx="247.87" cy="424.15" r="1.1"/><circle cx="253.45" cy="424.15" r="1.1"/><circle cx="257.40" cy="424.15" r="1.1"/><circle cx="262.98" cy="424.15" r="1.1"/><circle cx="266.93" cy="424.15" r="1.1"/><circle cx="272.51" cy="424.15" r="1.1"/><circle cx="276.46" cy="424.15" r="1.1"/><circle cx="282.04" cy="424.15" r="1.1"/><circle cx="285.99" cy="424.15" r="1.1"/><circle cx="291.57" cy="424.15" r="1.1"/><circle cx="295.52" cy="424.15" r="1.1"/><circle cx="301.10" cy="424.15" r="1.1"/><circle cx="305.05" cy="424.15" r="1.1"/><circle cx="310.63" cy="424.15" r="1.1"/><circle cx="314.58" cy="424.15" r="1.1"/><circle cx="320.16" cy="424.15" r="1.1"/><circle cx="324.11" cy="424.15" r="1.1"/><circle cx="329.69" cy="424.15" r="1.1"/><circle cx="333.64" cy="424.15" r="1.1"/><circle cx="339.22" cy="424.15" r="1.1"/><circle cx="343.17" cy="424.15" r="1.1"/><circle cx="348.75" cy="424.15" r="1.1"/><circle cx="352.70" cy="424.15" r="1.1"/><circle cx="358.28" cy="424.15" r="1.1"/><circle cx="362.23" cy="424.15" r="1.1"/><circle cx="367.81" cy="424.15" r="1.1"/><circle cx="371.76" cy="424.15" r="1.1"/><circle cx="205.80" cy="433.60" r="1.1"/><circle cx="209.75" cy="433.60" r="1.1"/><circle cx="215.33" cy="433.60" r="1.1"/><circle cx="219.28" cy="433.60" r="1.1"/><circle cx="224.86" cy="433.60" r="1.1"/><circle cx="228.81" cy="433.60" r="1.1"/><circle cx="234.39" cy="433.60" r="1.1"/><circle cx="238.34" cy="433.60" r="1.1"/><circle cx="243.92" cy="433.60" r="1.1"/><circle cx="247.87" cy="433.60" r="1.1"/><circle cx="253.45" cy="433.60" r="1.1"/><circle cx="257.40" cy="433.60" r="1.1"/><circle cx="262.98" cy="433.60" r="1.1"/><circle cx="266.93" cy="433.60" r="1.1"/><circle cx="272.51" cy="433.60" r="1.1"/><circle cx="276.46" cy="433.60" r="1.1"/><circle cx="282.04" cy="433.60" r="1.1"/><circle cx="285.99" cy="433.60" r="1.1"/><circle cx="291.57" cy="433.60" r="1.1"/><circle cx="295.52" cy="433.60" r="1.1"/><circle cx="301.10" cy="433.60" r="1.1"/><circle cx="305.05" cy="433.60" r="1.1"/><circle cx="310.63" cy="433.60" r="1.1"/><circle cx="314.58" cy="433.60" r="1.1"/><circle cx="320.16" cy="433.60" r="1.1"/><circle cx="324.11" cy="433.60" r="1.1"/><circle cx="329.69" cy="433.60" r="1.1"/><circle cx="333.64" cy="433.60" r="1.1"/><circle cx="339.22" cy="433.60" r="1.1"/><circle cx="343.17" cy="433.60" r="1.1"/><circle cx="348.75" cy="433.60" r="1.1"/><circle cx="352.70" cy="433.60" r="1.1"/><circle cx="358.28" cy="433.60" r="1.1"/><circle cx="362.23" cy="433.60" r="1.1"/><circle cx="367.81" cy="433.60" r="1.1"/><circle cx="371.76" cy="433.60" r="1.1"/><circle cx="205.80" cy="443.05" r="1.1"/><circle cx="209.75" cy="443.05" r="1.1"/><circle cx="215.33" cy="443.05" r="1.1"/><circle cx="219.28" cy="443.05" r="1.1"/><circle cx="224.86" cy="443.05" r="1.1"/><circle cx="228.81" cy="443.05" r="1.1"/><circle cx="234.39" cy="443.05" r="1.1"/><circle cx="238.34" cy="443.05" r="1.1"/><circle cx="243.92" cy="443.05" r="1.1"/><circle cx="247.87" cy="443.05" r="1.1"/><circle cx="253.45" cy="443.05" r="1.1"/><circle cx="257.40" cy="443.05" r="1.1"/><circle cx="262.98" cy="443.05" r="1.1"/><circle cx="266.93" cy="443.05" r="1.1"/><circle cx="272.51" cy="443.05" r="1.1"/><circle cx="276.46" cy="443.05" r="1.1"/><circle cx="282.04" cy="443.05" r="1.1"/><circle cx="285.99" cy="443.05" r="1.1"/><circle cx="291.57" cy="443.05" r="1.1"/><circle cx="295.52" cy="443.05" r="1.1"/><circle cx="301.10" cy="443.05" r="1.1"/><circle cx="305.05" cy="443.05" r="1.1"/><circle cx="310.63" cy="443.05" r="1.1"/><circle cx="314.58" cy="443.05" r="1.1"/><circle cx="320.16" cy="443.05" r="1.1"/><circle cx="324.11" cy="443.05" r="1.1"/><circle cx="329.69" cy="443.05" r="1.1"/><circle cx="333.64" cy="443.05" r="1.1"/><circle cx="339.22" cy="443.05" r="1.1"/><circle cx="343.17" cy="443.05" r="1.1"/><circle cx="348.75" cy="443.05" r="1.1"/><circle cx="352.70" cy="443.05" r="1.1"/><circle cx="358.28" cy="443.05" r="1.1"/><circle cx="362.23" cy="443.05" r="1.1"/><circle cx="367.81" cy="443.05" r="1.1"/><circle cx="371.76" cy="443.05" r="1.1"/><circle cx="203.10" cy="379.10" r="1.1"/><circle cx="203.10" cy="383.60" r="1.1"/><circle cx="203.10" cy="388.55" r="1.1"/><circle cx="203.10" cy="393.05" r="1.1"/><circle cx="203.10" cy="398.00" r="1.1"/><circle cx="203.10" cy="402.50" r="1.1"/><circle cx="203.10" cy="407.45" r="1.1"/><circle cx="203.10" cy="411.95" r="1.1"/><circle cx="203.10" cy="416.90" r="1.1"/><circle cx="203.10" cy="421.40" r="1.1"/><circle cx="203.10" cy="426.35" r="1.1"/><circle cx="203.10" cy="430.85" r="1.1"/><circle cx="203.10" cy="435.80" r="1.1"/><circle cx="203.10" cy="440.30" r="1.1"/><circle cx="212.63" cy="379.10" r="1.1"/><circle cx="212.63" cy="383.60" r="1.1"/><circle cx="212.63" cy="388.55" r="1.1"/><circle cx="212.63" cy="393.05" r="1.1"/><circle cx="212.63" cy="398.00" r="1.1"/><circle cx="212.63" cy="402.50" r="1.1"/><circle cx="212.63" cy="407.45" r="1.1"/><circle cx="212.63" cy="411.95" r="1.1"/><circle cx="212.63" cy="416.90" r="1.1"/><circle cx="212.63" cy="421.40" r="1.1"/><circle cx="212.63" cy="426.35" r="1.1"/><circle cx="212.63" cy="430.85" r="1.1"/><circle cx="212.63" cy="435.80" r="1.1"/><circle cx="212.63" cy="440.30" r="1.1"/><circle cx="222.16" cy="379.10" r="1.1"/><circle cx="222.16" cy="383.60" r="1.1"/><circle cx="222.16" cy="388.55" r="1.1"/><circle cx="222.16" cy="393.05" r="1.1"/><circle cx="222.16" cy="398.00" r="1.1"/><circle cx="222.16" cy="402.50" r="1.1"/><circle cx="222.16" cy="407.45" r="1.1"/><circle cx="222.16" cy="411.95" r="1.1"/><circle cx="222.16" cy="416.90" r="1.1"/><circle cx="222.16" cy="421.40" r="1.1"/><circle cx="222.16" cy="426.35" r="1.1"/><circle cx="222.16" cy="430.85" r="1.1"/><circle cx="222.16" cy="435.80" r="1.1"/><circle cx="222.16" cy="440.30" r="1.1"/><circle cx="231.69" cy="379.10" r="1.1"/><circle cx="231.69" cy="383.60" r="1.1"/><circle cx="231.69" cy="388.55" r="1.1"/><circle cx="231.69" cy="393.05" r="1.1"/><circle cx="231.69" cy="398.00" r="1.1"/><circle cx="231.69" cy="402.50" r="1.1"/><circle cx="231.69" cy="407.45" r="1.1"/><circle cx="231.69" cy="411.95" r="1.1"/><circle cx="231.69" cy="416.90" r="1.1"/><circle cx="231.69" cy="421.40" r="1.1"/><circle cx="231.69" cy="426.35" r="1.1"/><circle cx="231.69" cy="430.85" r="1.1"/><circle cx="231.69" cy="435.80" r="1.1"/><circle cx="231.69" cy="440.30" r="1.1"/><circle cx="241.22" cy="379.10" r="1.1"/><circle cx="241.22" cy="383.60" r="1.1"/><circle cx="241.22" cy="388.55" r="1.1"/><circle cx="241.22" cy="393.05" r="1.1"/><circle cx="241.22" cy="398.00" r="1.1"/><circle cx="241.22" cy="402.50" r="1.1"/><circle cx="241.22" cy="407.45" r="1.1"/><circle cx="241.22" cy="411.95" r="1.1"/><circle cx="241.22" cy="416.90" r="1.1"/><circle cx="241.22" cy="421.40" r="1.1"/><circle cx="241.22" cy="426.35" r="1.1"/><circle cx="241.22" cy="430.85" r="1.1"/><circle cx="241.22" cy="435.80" r="1.1"/><circle cx="241.22" cy="440.30" r="1.1"/><circle cx="250.75" cy="379.10" r="1.1"/><circle cx="250.75" cy="383.60" r="1.1"/><circle cx="250.75" cy="388.55" r="1.1"/><circle cx="250.75" cy="393.05" r="1.1"/><circle cx="250.75" cy="398.00" r="1.1"/><circle cx="250.75" cy="402.50" r="1.1"/><circle cx="250.75" cy="407.45" r="1.1"/><circle cx="250.75" cy="411.95" r="1.1"/><circle cx="250.75" cy="416.90" r="1.1"/><circle cx="250.75" cy="421.40" r="1.1"/><circle cx="250.75" cy="426.35" r="1.1"/><circle cx="250.75" cy="430.85" r="1.1"/><circle cx="250.75" cy="435.80" r="1.1"/><circle cx="250.75" cy="440.30" r="1.1"/><circle cx="260.28" cy="379.10" r="1.1"/><circle cx="260.28" cy="383.60" r="1.1"/><circle cx="260.28" cy="388.55" r="1.1"/><circle cx="260.28" cy="393.05" r="1.1"/><circle cx="260.28" cy="398.00" r="1.1"/><circle cx="260.28" cy="402.50" r="1.1"/><circle cx="260.28" cy="407.45" r="1.1"/><circle cx="260.28" cy="411.95" r="1.1"/><circle cx="260.28" cy="416.90" r="1.1"/><circle cx="260.28" cy="421.40" r="1.1"/><circle cx="260.28" cy="426.35" r="1.1"/><circle cx="260.28" cy="430.85" r="1.1"/><circle cx="260.28" cy="435.80" r="1.1"/><circle cx="260.28" cy="440.30" r="1.1"/><circle cx="269.81" cy="379.10" r="1.1"/><circle cx="269.81" cy="383.60" r="1.1"/><circle cx="269.81" cy="388.55" r="1.1"/><circle cx="269.81" cy="393.05" r="1.1"/><circle cx="269.81" cy="398.00" r="1.1"/><circle cx="269.81" cy="402.50" r="1.1"/><circle cx="269.81" cy="407.45" r="1.1"/><circle cx="269.81" cy="411.95" r="1.1"/><circle cx="269.81" cy="416.90" r="1.1"/><circle cx="269.81" cy="421.40" r="1.1"/><circle cx="269.81" cy="426.35" r="1.1"/><circle cx="269.81" cy="430.85" r="1.1"/><circle cx="269.81" cy="435.80" r="1.1"/><circle cx="269.81" cy="440.30" r="1.1"/><circle cx="279.34" cy="379.10" r="1.1"/><circle cx="279.34" cy="383.60" r="1.1"/><circle cx="279.34" cy="388.55" r="1.1"/><circle cx="279.34" cy="393.05" r="1.1"/><circle cx="279.34" cy="398.00" r="1.1"/><circle cx="279.34" cy="402.50" r="1.1"/><circle cx="279.34" cy="407.45" r="1.1"/><circle cx="279.34" cy="411.95" r="1.1"/><circle cx="279.34" cy="416.90" r="1.1"/><circle cx="279.34" cy="421.40" r="1.1"/><circle cx="279.34" cy="426.35" r="1.1"/><circle cx="279.34" cy="430.85" r="1.1"/><circle cx="279.34" cy="435.80" r="1.1"/><circle cx="279.34" cy="440.30" r="1.1"/><circle cx="288.87" cy="379.10" r="1.1"/><circle cx="288.87" cy="383.60" r="1.1"/><circle cx="288.87" cy="388.55" r="1.1"/><circle cx="288.87" cy="393.05" r="1.1"/><circle cx="288.87" cy="398.00" r="1.1"/><circle cx="288.87" cy="402.50" r="1.1"/><circle cx="288.87" cy="407.45" r="1.1"/><circle cx="288.87" cy="411.95" r="1.1"/><circle cx="288.87" cy="416.90" r="1.1"/><circle cx="288.87" cy="421.40" r="1.1"/><circle cx="288.87" cy="426.35" r="1.1"/><circle cx="288.87" cy="430.85" r="1.1"/><circle cx="288.87" cy="435.80" r="1.1"/><circle cx="288.87" cy="440.30" r="1.1"/><circle cx="298.40" cy="379.10" r="1.1"/><circle cx="298.40" cy="383.60" r="1.1"/><circle cx="298.40" cy="388.55" r="1.1"/><circle cx="298.40" cy="393.05" r="1.1"/><circle cx="298.40" cy="398.00" r="1.1"/><circle cx="298.40" cy="402.50" r="1.1"/><circle cx="298.40" cy="407.45" r="1.1"/><circle cx="298.40" cy="411.95" r="1.1"/><circle cx="298.40" cy="416.90" r="1.1"/><circle cx="298.40" cy="421.40" r="1.1"/><circle cx="298.40" cy="426.35" r="1.1"/><circle cx="298.40" cy="430.85" r="1.1"/><circle cx="298.40" cy="435.80" r="1.1"/><circle cx="298.40" cy="440.30" r="1.1"/><circle cx="307.93" cy="379.10" r="1.1"/><circle cx="307.93" cy="383.60" r="1.1"/><circle cx="307.93" cy="388.55" r="1.1"/><circle cx="307.93" cy="393.05" r="1.1"/><circle cx="307.93" cy="398.00" r="1.1"/><circle cx="307.93" cy="402.50" r="1.1"/><circle cx="307.93" cy="407.45" r="1.1"/><circle cx="307.93" cy="411.95" r="1.1"/><circle cx="307.93" cy="416.90" r="1.1"/><circle cx="307.93" cy="421.40" r="1.1"/><circle cx="307.93" cy="426.35" r="1.1"/><circle cx="307.93" cy="430.85" r="1.1"/><circle cx="307.93" cy="435.80" r="1.1"/><circle cx="307.93" cy="440.30" r="1.1"/><circle cx="317.46" cy="379.10" r="1.1"/><circle cx="317.46" cy="383.60" r="1.1"/><circle cx="317.46" cy="388.55" r="1.1"/><circle cx="317.46" cy="393.05" r="1.1"/><circle cx="317.46" cy="398.00" r="1.1"/><circle cx="317.46" cy="402.50" r="1.1"/><circle cx="317.46" cy="407.45" r="1.1"/><circle cx="317.46" cy="411.95" r="1.1"/><circle cx="317.46" cy="416.90" r="1.1"/><circle cx="317.46" cy="421.40" r="1.1"/><circle cx="317.46" cy="426.35" r="1.1"/><circle cx="317.46" cy="430.85" r="1.1"/><circle cx="317.46" cy="435.80" r="1.1"/><circle cx="317.46" cy="440.30" r="1.1"/><circle cx="326.99" cy="379.10" r="1.1"/><circle cx="326.99" cy="383.60" r="1.1"/><circle cx="326.99" cy="388.55" r="1.1"/><circle cx="326.99" cy="393.05" r="1.1"/><circle cx="326.99" cy="398.00" r="1.1"/><circle cx="326.99" cy="402.50" r="1.1"/><circle cx="326.99" cy="407.45" r="1.1"/><circle cx="326.99" cy="411.95" r="1.1"/><circle cx="326.99" cy="416.90" r="1.1"/><circle cx="326.99" cy="421.40" r="1.1"/><circle cx="326.99" cy="426.35" r="1.1"/><circle cx="326.99" cy="430.85" r="1.1"/><circle cx="326.99" cy="435.80" r="1.1"/><circle cx="326.99" cy="440.30" r="1.1"/><circle cx="336.52" cy="379.10" r="1.1"/><circle cx="336.52" cy="383.60" r="1.1"/><circle cx="336.52" cy="388.55" r="1.1"/><circle cx="336.52" cy="393.05" r="1.1"/><circle cx="336.52" cy="398.00" r="1.1"/><circle cx="336.52" cy="402.50" r="1.1"/><circle cx="336.52" cy="407.45" r="1.1"/><circle cx="336.52" cy="411.95" r="1.1"/><circle cx="336.52" cy="416.90" r="1.1"/><circle cx="336.52" cy="421.40" r="1.1"/><circle cx="336.52" cy="426.35" r="1.1"/><circle cx="336.52" cy="430.85" r="1.1"/><circle cx="336.52" cy="435.80" r="1.1"/><circle cx="336.52" cy="440.30" r="1.1"/><circle cx="346.05" cy="379.10" r="1.1"/><circle cx="346.05" cy="383.60" r="1.1"/><circle cx="346.05" cy="388.55" r="1.1"/><circle cx="346.05" cy="393.05" r="1.1"/><circle cx="346.05" cy="398.00" r="1.1"/><circle cx="346.05" cy="402.50" r="1.1"/><circle cx="346.05" cy="407.45" r="1.1"/><circle cx="346.05" cy="411.95" r="1.1"/><circle cx="346.05" cy="416.90" r="1.1"/><circle cx="346.05" cy="421.40" r="1.1"/><circle cx="346.05" cy="426.35" r="1.1"/><circle cx="346.05" cy="430.85" r="1.1"/><circle cx="346.05" cy="435.80" r="1.1"/><circle cx="346.05" cy="440.30" r="1.1"/><circle cx="355.58" cy="379.10" r="1.1"/><circle cx="355.58" cy="383.60" r="1.1"/><circle cx="355.58" cy="388.55" r="1.1"/><circle cx="355.58" cy="393.05" r="1.1"/><circle cx="355.58" cy="398.00" r="1.1"/><circle cx="355.58" cy="402.50" r="1.1"/><circle cx="355.58" cy="407.45" r="1.1"/><circle cx="355.58" cy="411.95" r="1.1"/><circle cx="355.58" cy="416.90" r="1.1"/><circle cx="355.58" cy="421.40" r="1.1"/><circle cx="355.58" cy="426.35" r="1.1"/><circle cx="355.58" cy="430.85" r="1.1"/><circle cx="355.58" cy="435.80" r="1.1"/><circle cx="355.58" cy="440.30" r="1.1"/><circle cx="365.11" cy="379.10" r="1.1"/><circle cx="365.11" cy="383.60" r="1.1"/><circle cx="365.11" cy="388.55" r="1.1"/><circle cx="365.11" cy="393.05" r="1.1"/><circle cx="365.11" cy="398.00" r="1.1"/><circle cx="365.11" cy="402.50" r="1.1"/><circle cx="365.11" cy="407.45" r="1.1"/><circle cx="365.11" cy="411.95" r="1.1"/><circle cx="365.11" cy="416.90" r="1.1"/><circle cx="365.11" cy="421.40" r="1.1"/><circle cx="365.11" cy="426.35" r="1.1"/><circle cx="365.11" cy="430.85" r="1.1"/><circle cx="365.11" cy="435.80" r="1.1"/><circle cx="365.11" cy="440.30" r="1.1"/><circle cx="374.64" cy="379.10" r="1.1"/><circle cx="374.64" cy="383.60" r="1.1"/><circle cx="374.64" cy="388.55" r="1.1"/><circle cx="374.64" cy="393.05" r="1.1"/><circle cx="374.64" cy="398.00" r="1.1"/><circle cx="374.64" cy="402.50" r="1.1"/><circle cx="374.64" cy="407.45" r="1.1"/><circle cx="374.64" cy="411.95" r="1.1"/><circle cx="374.64" cy="416.90" r="1.1"/><circle cx="374.64" cy="421.40" r="1.1"/><circle cx="374.64" cy="426.35" r="1.1"/><circle cx="374.64" cy="430.85" r="1.1"/><circle cx="374.64" cy="435.80" r="1.1"/><circle cx="374.64" cy="440.30" r="1.1"/></g>
</svg>
</body></html>
